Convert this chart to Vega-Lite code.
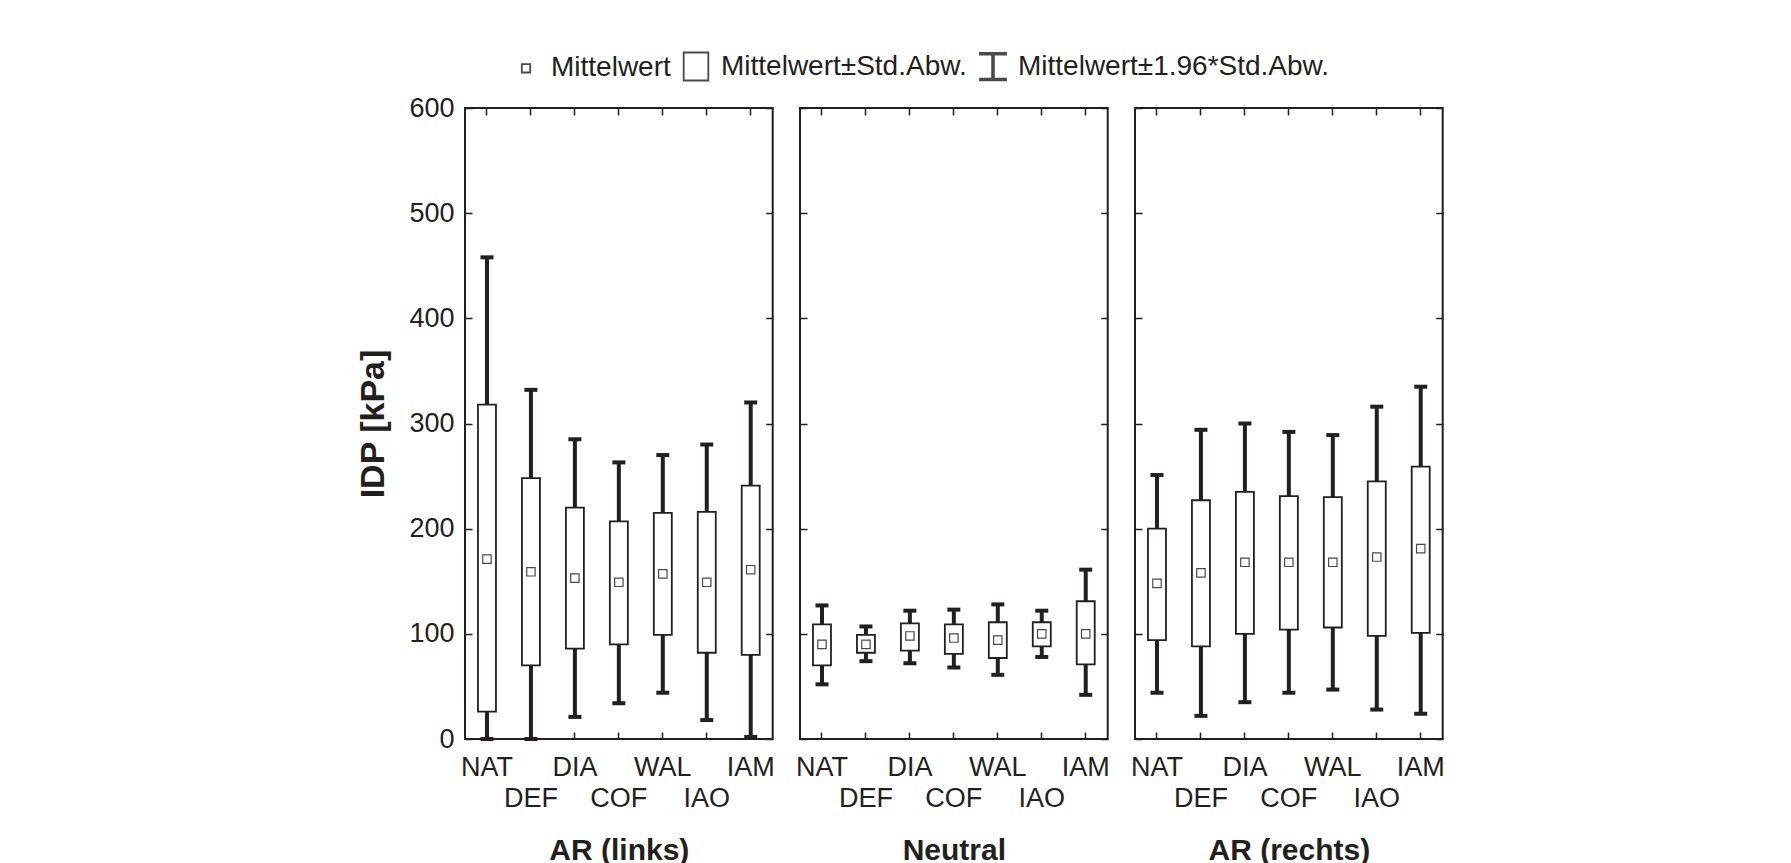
{
  "$schema": "https://vega.github.io/schema/vega-lite/v6.json",
  "background": "white",
  "padding": {"left": 355, "top": 51, "right": 20, "bottom": 0},
  "config": {
    "font": "Liberation Sans",
    "view": {"stroke": "#231f20", "strokeWidth": 2},
    "axis": {"grid": false, "domain": false, "tickColor": "#231f20", "tickWidth": 1.5, "tickSize": -7, "labelColor": "#231f20", "titleColor": "#231f20"}
  },
  "datasets": {
    "d": [
      {"panel": "AR (links)", "group": "NAT", "ci_lo": 0, "sd_lo": 26, "mean": 171, "sd_hi": 318, "ci_hi": 458},
      {"panel": "AR (links)", "group": "DEF", "ci_lo": 0, "sd_lo": 70, "mean": 159, "sd_hi": 248, "ci_hi": 332},
      {"panel": "AR (links)", "group": "DIA", "ci_lo": 21, "sd_lo": 86, "mean": 153, "sd_hi": 220, "ci_hi": 285},
      {"panel": "AR (links)", "group": "COF", "ci_lo": 34, "sd_lo": 90, "mean": 149, "sd_hi": 207, "ci_hi": 263},
      {"panel": "AR (links)", "group": "WAL", "ci_lo": 44, "sd_lo": 99, "mean": 157, "sd_hi": 215, "ci_hi": 270},
      {"panel": "AR (links)", "group": "IAO", "ci_lo": 18, "sd_lo": 82, "mean": 149, "sd_hi": 216, "ci_hi": 280},
      {"panel": "AR (links)", "group": "IAM", "ci_lo": 2, "sd_lo": 80, "mean": 161, "sd_hi": 241, "ci_hi": 320},
      {"panel": "Neutral", "group": "NAT", "ci_lo": 52, "sd_lo": 70, "mean": 90, "sd_hi": 109, "ci_hi": 127},
      {"panel": "Neutral", "group": "DEF", "ci_lo": 74, "sd_lo": 82, "mean": 90, "sd_hi": 99, "ci_hi": 107},
      {"panel": "Neutral", "group": "DIA", "ci_lo": 72, "sd_lo": 84, "mean": 98, "sd_hi": 110, "ci_hi": 122},
      {"panel": "Neutral", "group": "COF", "ci_lo": 68, "sd_lo": 81, "mean": 96, "sd_hi": 109, "ci_hi": 123},
      {"panel": "Neutral", "group": "WAL", "ci_lo": 61, "sd_lo": 77, "mean": 94, "sd_hi": 111, "ci_hi": 128},
      {"panel": "Neutral", "group": "IAO", "ci_lo": 78, "sd_lo": 88, "mean": 100, "sd_hi": 111, "ci_hi": 122},
      {"panel": "Neutral", "group": "IAM", "ci_lo": 42, "sd_lo": 71, "mean": 100, "sd_hi": 131, "ci_hi": 161},
      {"panel": "AR (rechts)", "group": "NAT", "ci_lo": 44, "sd_lo": 94, "mean": 148, "sd_hi": 200, "ci_hi": 251},
      {"panel": "AR (rechts)", "group": "DEF", "ci_lo": 22, "sd_lo": 88, "mean": 158, "sd_hi": 227, "ci_hi": 294},
      {"panel": "AR (rechts)", "group": "DIA", "ci_lo": 35, "sd_lo": 100, "mean": 168, "sd_hi": 235, "ci_hi": 300},
      {"panel": "AR (rechts)", "group": "COF", "ci_lo": 44, "sd_lo": 104, "mean": 168, "sd_hi": 231, "ci_hi": 292},
      {"panel": "AR (rechts)", "group": "WAL", "ci_lo": 47, "sd_lo": 106, "mean": 168, "sd_hi": 230, "ci_hi": 289},
      {"panel": "AR (rechts)", "group": "IAO", "ci_lo": 28, "sd_lo": 98, "mean": 173, "sd_hi": 245, "ci_hi": 316},
      {"panel": "AR (rechts)", "group": "IAM", "ci_lo": 24, "sd_lo": 101, "mean": 181, "sd_hi": 259, "ci_hi": 335}
    ]
  },
  "spacing": 27,
  "bounds": "flush",
  "hconcat": [
    {
      "width": 307.7, "height": 631,
      "data": {"name": "d"},
      "transform": [{"filter": "datum.panel === 'AR (links)'"}],
      "layer": [
        {"mark": {"type": "rule", "color": "#231f20", "strokeWidth": 4},
         "encoding": {
           "x": {"field": "group", "type": "nominal", "sort": ["NAT","DEF","DIA","COF","WAL","IAO","IAM"], "scale": {"paddingInner": 0, "paddingOuter": 0},
                 "axis": {"orient": "bottom", "title": "AR (links)", "titleFontSize": 30, "titleFontWeight": "bold", "titlePadding": 24, "labelAngle": 0, "labelFontSize": 27, "labelPadding": 22, "labelLineHeight": 31, "labelOverlap": false, "labelBaseline": "top", "labelExpr": "indexof(['DEF','COF','IAO'], datum.value) >= 0 ? ['', datum.value] : datum.value"}},
           "y": {"field": "ci_lo", "type": "quantitative", "scale": {"domain": [0, 600], "nice": false},
                 "axis": {"orient": "left", "title": "IDP [kPa]", "titleFontSize": 34, "titleFontWeight": "bold", "titlePadding": 18, "values": [0,100,200,300,400,500,600], "labelFontSize": 27, "labelPadding": 18, "labelFlush": false, "labelOverlap": false}},
           "y2": {"field": "ci_hi"}
         }},
        {"mark": {"type": "bar", "width": 18, "fill": "white", "stroke": "#231f20", "strokeWidth": 1.8},
         "encoding": {
           "x": {"field": "group", "type": "nominal", "sort": ["NAT","DEF","DIA","COF","WAL","IAO","IAM"], "axis": {"orient": "top", "title": null, "labels": false}},
           "y": {"field": "sd_lo", "type": "quantitative", "axis": {"orient": "right", "title": null, "labels": false, "values": [0,100,200,300,400,500,600]}},
           "y2": {"field": "sd_hi"}
         }},
        {"mark": {"type": "tick", "color": "#231f20", "thickness": 4, "size": 13, "opacity": 1},
         "encoding": {
           "x": {"field": "group", "type": "nominal", "sort": ["NAT","DEF","DIA","COF","WAL","IAO","IAM"], "axis": null},
           "y": {"field": "ci_lo", "type": "quantitative", "axis": null}
         }},
        {"mark": {"type": "tick", "color": "#231f20", "thickness": 4, "size": 13, "opacity": 1},
         "encoding": {
           "x": {"field": "group", "type": "nominal", "sort": ["NAT","DEF","DIA","COF","WAL","IAO","IAM"], "axis": null},
           "y": {"field": "ci_hi", "type": "quantitative", "axis": null}
         }},
        {"mark": {"type": "point", "filled": true, "fill": "white", "stroke": "#4a4a4a", "strokeWidth": 1.2, "size": 784, "opacity": 1},
         "encoding": {
           "x": {"field": "group", "type": "nominal", "sort": ["NAT","DEF","DIA","COF","WAL","IAO","IAM"], "axis": null},
           "y": {"field": "mean", "type": "quantitative", "axis": null},
           "shape": {"datum": "Mittelwert",
             "scale": {"domain": ["Mittelwert", "Mittelwert±Std.Abw.", "Mittelwert±1.96*Std.Abw."],
                       "range": ["M-0.3,-0.3H0.3V0.3H-0.3Z", "M-0.88,-1H0.88V1H-0.88Z", "M-0.93,-0.98H0.93V-0.852H0.064V0.852H0.93V0.98H-0.93V0.852H-0.064V-0.852H-0.93Z"]},
             "legend": {"title": null, "orient": "none", "legendX": 46, "legendY": -56.7, "direction": "horizontal", "symbolSize": 784, "labelFontSize": 28, "labelFont": "Liberation Sans", "labelColor": "#231f20", "labelOffset": 10, "columnPadding": 9, "labelLimit": 400, "padding": 0, "symbolStrokeWidth": 1.8,
               "encode": {"symbols": {"update": {"fill": {"value": "white"}, "stroke": {"value": "#231f20"}, "strokeWidth": {"value": 1.8}}}}}}
         }}
      ],
      "resolve": {"axis": {"x": "independent", "y": "independent"}}
    },
    {
      "width": 307.7, "height": 631,
      "data": {"name": "d"},
      "transform": [{"filter": "datum.panel === 'Neutral'"}],
      "layer": [
        {"mark": {"type": "rule", "color": "#231f20", "strokeWidth": 4},
         "encoding": {
           "x": {"field": "group", "type": "nominal", "sort": ["NAT","DEF","DIA","COF","WAL","IAO","IAM"], "scale": {"paddingInner": 0, "paddingOuter": 0},
                 "axis": {"orient": "bottom", "title": "Neutral", "titleFontSize": 30, "titleFontWeight": "bold", "titlePadding": 24, "labelAngle": 0, "labelFontSize": 27, "labelPadding": 22, "labelLineHeight": 31, "labelOverlap": false, "labelBaseline": "top", "labelExpr": "indexof(['DEF','COF','IAO'], datum.value) >= 0 ? ['', datum.value] : datum.value"}},
           "y": {"field": "ci_lo", "type": "quantitative", "scale": {"domain": [0, 600], "nice": false},
                 "axis": {"orient": "left", "title": null, "labels": false, "values": [0,100,200,300,400,500,600]}},
           "y2": {"field": "ci_hi"}
         }},
        {"mark": {"type": "bar", "width": 18, "fill": "white", "stroke": "#231f20", "strokeWidth": 1.8},
         "encoding": {
           "x": {"field": "group", "type": "nominal", "sort": ["NAT","DEF","DIA","COF","WAL","IAO","IAM"], "axis": {"orient": "top", "title": null, "labels": false}},
           "y": {"field": "sd_lo", "type": "quantitative", "axis": {"orient": "right", "title": null, "labels": false, "values": [0,100,200,300,400,500,600]}},
           "y2": {"field": "sd_hi"}
         }},
        {"mark": {"type": "tick", "color": "#231f20", "thickness": 4, "size": 13, "opacity": 1},
         "encoding": {
           "x": {"field": "group", "type": "nominal", "sort": ["NAT","DEF","DIA","COF","WAL","IAO","IAM"], "axis": null},
           "y": {"field": "ci_lo", "type": "quantitative", "axis": null}
         }},
        {"mark": {"type": "tick", "color": "#231f20", "thickness": 4, "size": 13, "opacity": 1},
         "encoding": {
           "x": {"field": "group", "type": "nominal", "sort": ["NAT","DEF","DIA","COF","WAL","IAO","IAM"], "axis": null},
           "y": {"field": "ci_hi", "type": "quantitative", "axis": null}
         }},
        {"mark": {"type": "point", "filled": true, "fill": "white", "stroke": "#4a4a4a", "strokeWidth": 1.2, "size": 784, "opacity": 1},
         "encoding": {
           "x": {"field": "group", "type": "nominal", "sort": ["NAT","DEF","DIA","COF","WAL","IAO","IAM"], "axis": null},
           "y": {"field": "mean", "type": "quantitative", "axis": null},
           "shape": {"datum": "Mittelwert"}
         }}
      ],
      "resolve": {"axis": {"x": "independent", "y": "independent"}}
    },
    {
      "width": 307.7, "height": 631,
      "data": {"name": "d"},
      "transform": [{"filter": "datum.panel === 'AR (rechts)'"}],
      "layer": [
        {"mark": {"type": "rule", "color": "#231f20", "strokeWidth": 4},
         "encoding": {
           "x": {"field": "group", "type": "nominal", "sort": ["NAT","DEF","DIA","COF","WAL","IAO","IAM"], "scale": {"paddingInner": 0, "paddingOuter": 0},
                 "axis": {"orient": "bottom", "title": "AR (rechts)", "titleFontSize": 30, "titleFontWeight": "bold", "titlePadding": 24, "labelAngle": 0, "labelFontSize": 27, "labelPadding": 22, "labelLineHeight": 31, "labelOverlap": false, "labelBaseline": "top", "labelExpr": "indexof(['DEF','COF','IAO'], datum.value) >= 0 ? ['', datum.value] : datum.value"}},
           "y": {"field": "ci_lo", "type": "quantitative", "scale": {"domain": [0, 600], "nice": false},
                 "axis": {"orient": "left", "title": null, "labels": false, "values": [0,100,200,300,400,500,600]}},
           "y2": {"field": "ci_hi"}
         }},
        {"mark": {"type": "bar", "width": 18, "fill": "white", "stroke": "#231f20", "strokeWidth": 1.8},
         "encoding": {
           "x": {"field": "group", "type": "nominal", "sort": ["NAT","DEF","DIA","COF","WAL","IAO","IAM"], "axis": {"orient": "top", "title": null, "labels": false}},
           "y": {"field": "sd_lo", "type": "quantitative", "axis": {"orient": "right", "title": null, "labels": false, "values": [0,100,200,300,400,500,600]}},
           "y2": {"field": "sd_hi"}
         }},
        {"mark": {"type": "tick", "color": "#231f20", "thickness": 4, "size": 13, "opacity": 1},
         "encoding": {
           "x": {"field": "group", "type": "nominal", "sort": ["NAT","DEF","DIA","COF","WAL","IAO","IAM"], "axis": null},
           "y": {"field": "ci_lo", "type": "quantitative", "axis": null}
         }},
        {"mark": {"type": "tick", "color": "#231f20", "thickness": 4, "size": 13, "opacity": 1},
         "encoding": {
           "x": {"field": "group", "type": "nominal", "sort": ["NAT","DEF","DIA","COF","WAL","IAO","IAM"], "axis": null},
           "y": {"field": "ci_hi", "type": "quantitative", "axis": null}
         }},
        {"mark": {"type": "point", "filled": true, "fill": "white", "stroke": "#4a4a4a", "strokeWidth": 1.2, "size": 784, "opacity": 1},
         "encoding": {
           "x": {"field": "group", "type": "nominal", "sort": ["NAT","DEF","DIA","COF","WAL","IAO","IAM"], "axis": null},
           "y": {"field": "mean", "type": "quantitative", "axis": null},
           "shape": {"datum": "Mittelwert"}
         }}
      ],
      "resolve": {"axis": {"x": "independent", "y": "independent"}}
    }
  ]
}
